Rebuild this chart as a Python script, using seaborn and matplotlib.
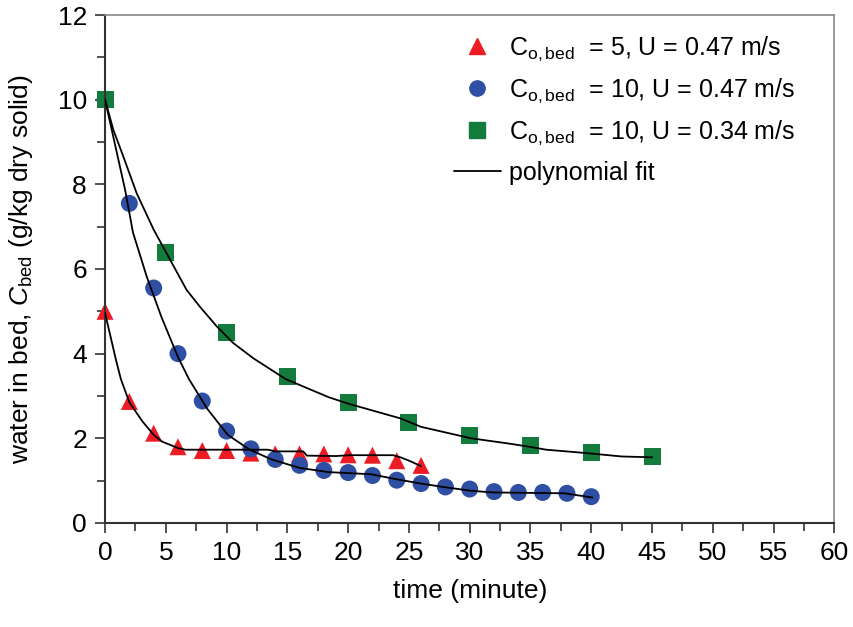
import numpy as np
import pandas as pd
import matplotlib
matplotlib.use("Agg")
import matplotlib.pyplot as plt
import seaborn as sns
from matplotlib.lines import Line2D
from matplotlib.ticker import MultipleLocator

# measured points
red_t = [0, 2, 4, 6, 8, 10, 12, 14, 16, 18, 20, 22, 24, 26]
red_c = [5.0, 2.87, 2.12, 1.8, 1.71, 1.71, 1.65, 1.63, 1.63, 1.63, 1.61, 1.6, 1.47, 1.36]

blue_t = [0, 2, 4, 6, 8, 10, 12, 14, 16, 18, 20, 22, 24, 26, 28, 30, 32, 34, 36, 38, 40]
blue_c = [10, 7.55, 5.55, 4.0, 2.88, 2.17, 1.75, 1.5, 1.36, 1.24, 1.19, 1.12, 1.01,
          0.93, 0.85, 0.8, 0.74, 0.72, 0.72, 0.70, 0.62]

green_t = [0, 5, 10, 15, 20, 25, 30, 35, 40, 45]
green_c = [10, 6.4, 4.5, 3.45, 2.85, 2.38, 2.07, 1.82, 1.66, 1.56]

# polynomial fit curves
red_fit_t = [0, 0.9, 1.3, 2, 3.1, 4, 4.7, 6, 6.6, 8, 10, 12, 13.4, 14, 16.3, 16.6,
             19, 20.1, 23.7, 24.3, 25.1, 26]
red_fit_c = [4.96, 3.85, 3.4, 2.85, 2.39, 2.08, 1.92, 1.77, 1.73, 1.73, 1.73, 1.73,
             1.73, 1.69, 1.69, 1.59, 1.58, 1.6, 1.6, 1.55, 1.46, 1.34]

blue_fit_t = [0, 1.65, 2.3, 3.43, 4.66, 6.0, 6.9, 8.4, 10.1, 11.9, 13.7, 16, 18.4,
              21.9, 24, 26, 27.8, 30.1, 31.9, 37.8, 40.1]
blue_fit_c = [10, 7.87, 6.86, 5.82, 4.85, 3.92, 3.4, 2.7, 2.08, 1.73, 1.5, 1.3, 1.2,
              1.15, 1.03, 0.93, 0.85, 0.76, 0.72, 0.70, 0.6]

green_fit_t = [0, 0.68, 1.5, 2.6, 4.0, 5.35, 6.7, 7.8, 9.2, 10.55, 12.2, 14.85, 18.4,
               20.1, 24.3, 26, 30.1, 33.1, 34.9, 36.3, 39.6, 42.5, 45]
green_fit_c = [10, 9.29, 8.66, 7.79, 6.93, 6.22, 5.51, 5.11, 4.64, 4.25, 3.89, 3.4, 2.97,
               2.81, 2.47, 2.27, 2.0, 1.88, 1.8, 1.73, 1.65, 1.57, 1.55]

labels = [r"C$_{\mathregular{o,bed}}$  = 5, U = 0.47 m/s",
          r"C$_{\mathregular{o,bed}}$  = 10, U = 0.47 m/s",
          r"C$_{\mathregular{o,bed}}$  = 10, U = 0.34 m/s"]
colors = ["#ED1C24", "#2E4FA3", "#137B3C"]
markers = ["^", "o", "s"]

pts = pd.concat([
    pd.DataFrame({"t": red_t, "c": red_c, "series": labels[0]}),
    pd.DataFrame({"t": blue_t, "c": blue_c, "series": labels[1]}),
    pd.DataFrame({"t": green_t, "c": green_c, "series": labels[2]}),
])
fits = pd.concat([
    pd.DataFrame({"t": red_fit_t, "c": red_fit_c, "series": "red"}),
    pd.DataFrame({"t": blue_fit_t, "c": blue_fit_c, "series": "blue"}),
    pd.DataFrame({"t": green_fit_t, "c": green_fit_c, "series": "green"}),
])

sns.set_style("white")
plt.rcParams["font.family"] = ["Liberation Sans", "DejaVu Sans"]
plt.rcParams["mathtext.fontset"] = "custom"
plt.rcParams["mathtext.rm"] = "Liberation Sans"
plt.rcParams["mathtext.it"] = "Liberation Sans:italic"
plt.rcParams["text.color"] = "black"
plt.rcParams["axes.labelcolor"] = "black"

fig = plt.figure(figsize=(8.54, 6.27), dpi=100)
ax = fig.add_axes([0.123, 0.166, 0.854, 0.81])

sns.scatterplot(data=pts, x="t", y="c", hue="series", style="series",
                palette=dict(zip(labels, colors)), markers=dict(zip(labels, markers)),
                s=150, linewidth=0, legend=False, ax=ax, zorder=2, clip_on=False)
sns.lineplot(data=fits, x="t", y="c", units="series", estimator=None, sort=False,
             color="black", linewidth=1.3, ax=ax, zorder=3)

ax.set_xlim(0, 60)
ax.set_ylim(0, 12)
ax.xaxis.set_major_locator(MultipleLocator(5))
ax.xaxis.set_minor_locator(MultipleLocator(2.5))
ax.yaxis.set_major_locator(MultipleLocator(2))
ax.yaxis.set_minor_locator(MultipleLocator(1))
ax.tick_params(which="major", direction="out", length=7, width=1.2,
               color="#333333", labelcolor="black", labelsize=19, pad=6)
ax.tick_params(which="minor", direction="out", length=6, width=1.2, color="#333333")
ax.tick_params(axis="x", which="both", bottom=True)
ax.tick_params(axis="y", which="both", left=True)

for side in ["left", "bottom"]:
    ax.spines[side].set_color("#333333")
    ax.spines[side].set_linewidth(1.5)
for side in ["top", "right"]:
    ax.spines[side].set_color("#888888")
    ax.spines[side].set_linewidth(1.2)

ax.set_xlabel("time (minute)", fontsize=19, labelpad=10)
ax.set_ylabel(r"water in bed, $\mathit{C}_{\mathregular{bed}}$ (g/kg dry solid)",
              fontsize=19, labelpad=16)

handles = [Line2D([], [], linestyle="none", marker=m, color=c, markersize=11)
           for m, c in zip(markers, colors)]
handles.append(Line2D([], [], color="black", linewidth=1.3))
ax.legend(handles, labels + ["polynomial fit"], loc="upper right",
          bbox_to_anchor=(0.977, 1.006), frameon=False, fontsize=18,
          handlelength=1.9, handletextpad=0.3, labelspacing=0.55)

plt.savefig("out.png", dpi=100)
plt.close()
